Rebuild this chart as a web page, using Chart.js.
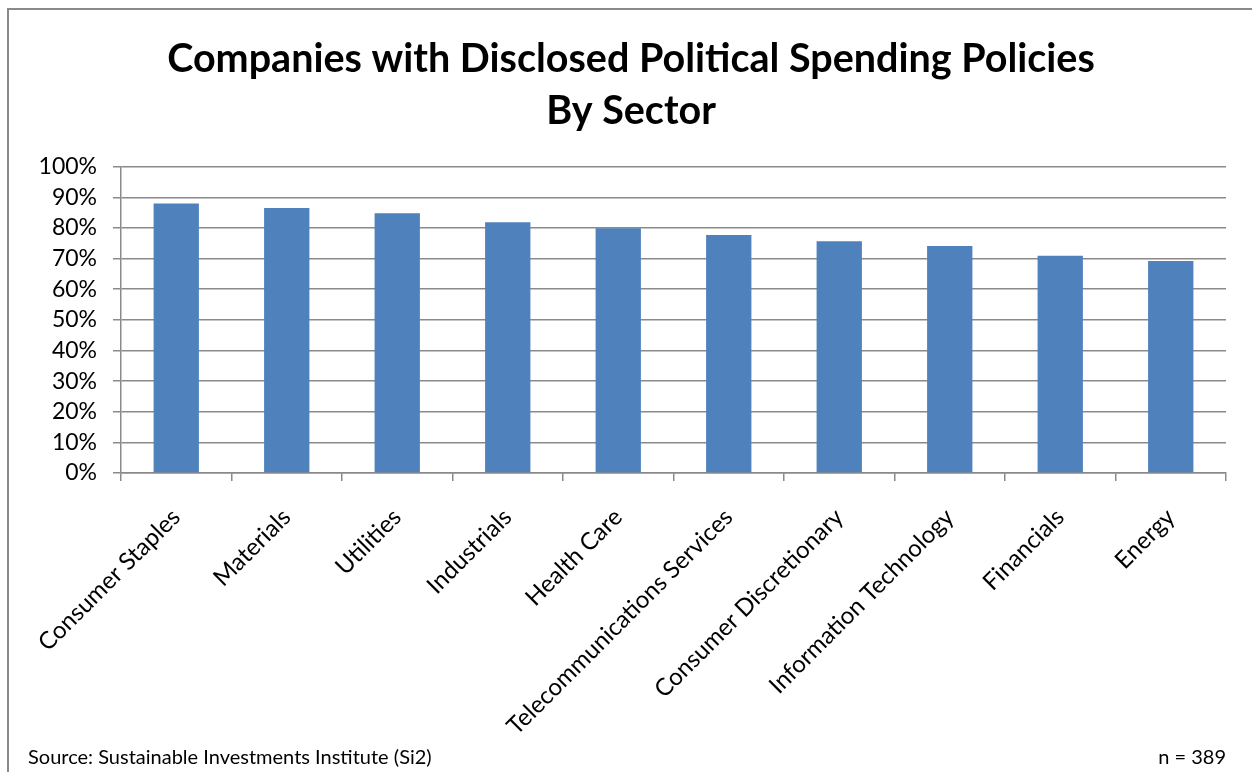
<!DOCTYPE html>
<html>
<head>
<meta charset="utf-8">
<script src="https://cdn.jsdelivr.net/npm/chart.js@4"></script>
<style>
  html, body { margin: 0; padding: 0; background: #fff; }
  #wrap { position: relative; width: 1252px; height: 772px; }
</style>
</head>
<body>
<div id="wrap"><canvas id="myChart" width="1252" height="772"></canvas></div>
<script>
// sectors and share of companies with a disclosed policy (%)
const sectors = ['Consumer Staples', 'Materials', 'Utilities', 'Industrials', 'Health Care',
  'Telecommunications Services', 'Consumer Discretionary', 'Information Technology', 'Financials', 'Energy'];
const disclosedPct = [88, 86.5, 84.8, 81.9, 79.9, 77.7, 75.7, 74.1, 70.9, 69.2];
const yTicks = [0, 10, 20, 30, 40, 50, 60, 70, 80, 90, 100];

const titleLines = ['Companies with Disclosed Political Spending Policies', 'By Sector'];
const sourceText = 'Source: Sustainable Investments Institute (Si2)';
const sampleText = 'n = 389';

const fontFamily = 'Lato, "Open Sans", sans-serif';
const gridColor = '#8a8a8a';

// frame lines and the footer notes
const footerPlugin = {
  id: 'footer',
  beforeDraw(chart) {
    const c = chart.ctx;
    c.save();
    c.strokeStyle = '#8a8a8a';
    c.lineWidth = 2;
    c.beginPath();
    c.moveTo(8, 772);
    c.lineTo(8, 9);
    c.lineTo(1252, 9);
    c.stroke();
    c.restore();
  },
  afterDraw(chart) {
    const c = chart.ctx;
    c.save();
    c.fillStyle = '#000';
    c.font = '20px ' + fontFamily;
    c.textBaseline = 'middle';
    c.textAlign = 'left';
    c.fillText(sourceText, 28, 758);
    c.textAlign = 'right';
    c.fillText(sampleText, 1226, 758);
    c.restore();
  }
};

const ctx = document.getElementById('myChart').getContext('2d');
const myChart = new Chart(ctx, {
  type: 'bar',
  data: {
    labels: sectors,
    datasets: [{
      data: disclosedPct,
      backgroundColor: '#4f81bd',
      borderWidth: 0,
      barPercentage: 0.41,
      categoryPercentage: 1
    }]
  },
  options: {
    responsive: false,
    animation: false,
    layout: { padding: { top: 30, left: 24, right: 14, bottom: 0 } },
    plugins: {
      legend: { display: false },
      tooltip: { enabled: false },
      title: {
        display: true,
        text: titleLines,
        color: '#000',
        font: { family: fontFamily, size: 39.5, weight: 'bold', lineHeight: 1.3 },
        padding: { top: 4, bottom: 30 }
      }
    },
    scales: {
      x: {
        afterFit(scale) { scale.height = 299; },
        grid: { display: true, drawOnChartArea: false, drawTicks: true, tickLength: 8, offset: true, color: gridColor, lineWidth: 1.5 },
        border: { display: true, color: gridColor, width: 1.5 },
        ticks: {
          color: '#000',
          font: { family: fontFamily, size: 24 },
          minRotation: 45,
          maxRotation: 45,
          autoSkip: false,
          padding: 22
        }
      },
      y: {
        min: 0,
        max: 100,
        afterFit(scale) { scale.width = 97; },
        afterBuildTicks(scale) { scale.ticks = yTicks.map(v => ({ value: v })); },
        grid: { color: gridColor, lineWidth: 1.5, drawTicks: true, tickLength: 8 },
        border: { display: true, color: gridColor, width: 1.5 },
        ticks: {
          color: '#000',
          font: { family: fontFamily, size: 23 },
          autoSkip: false,
          padding: 16,
          callback: v => v + '%'
        }
      },
      // empty gutter on the right of the plot
      yRight: {
        position: 'right',
        min: 0,
        max: 100,
        afterFit(scale) { scale.width = 12; },
        grid: { display: false },
        border: { display: false },
        ticks: { display: false }
      }
    }
  },
  plugins: [footerPlugin]
});
</script>
</body>
</html>
